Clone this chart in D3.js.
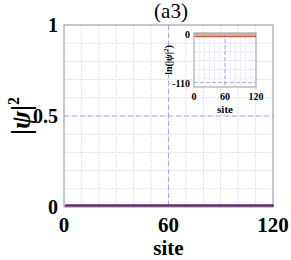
<!DOCTYPE html>
<html>
<head>
<meta charset="utf-8">
<script src="https://cdn.jsdelivr.net/npm/d3@7"></script>
<style>
  body { margin: 0; background: #fff; }
  svg { display: block; }
  text { font-family: "Liberation Serif", "Times New Roman", serif; }
</style>
</head>
<body>
<div id="chart"></div>
<script>
// main panel: |psi|^2 on each site (uniform state, 1/120)
var sites = d3.range(1, 121);
var probRed = sites.map(function (s) { return 0.0083; });
var probBlue = sites.map(function (s) { return 0.0083; });
var xTicks = [0, 60, 120];
var yTicks = [0, 0.5, 1];

// inset: ln(|psi|^2)
var lnValues = sites.map(function (s) { return -4.79; });
var insetXTicks = [0, 60, 120];
var insetYTicks = [-110, 0];

var width = 291, height = 260;
var margin = {top: 25, right: 18, bottom: 53, left: 64};
var w = width - margin.left - margin.right,
    h = height - margin.top - margin.bottom;

var svg = d3.select("#chart").append("svg")
    .attr("width", width)
    .attr("height", height);

var g = svg.append("g")
    .attr("transform", "translate(" + margin.left + "," + margin.top + ")");

var x = d3.scaleLinear().domain([0, 120]).range([0, w]);
var y = d3.scaleLinear().domain([0, 1]).range([h, 0]);

// minor grid
g.selectAll(".gx").data(d3.range(10, 120, 10))
    .enter().append("line")
        .attr("x1", function(d) { return x(d); })
        .attr("x2", function(d) { return x(d); })
        .attr("y1", 0).attr("y2", h)
        .style("stroke", "#dedef6").style("stroke-width", 1)
        .style("stroke-dasharray", "2,1");
g.selectAll(".gy").data(d3.range(0.1, 1, 0.1))
    .enter().append("line")
        .attr("y1", function(d) { return y(d); })
        .attr("y2", function(d) { return y(d); })
        .attr("x1", 0).attr("x2", w)
        .style("stroke", "#dedef6").style("stroke-width", 1)
        .style("stroke-dasharray", "2,1");
// major grid
g.append("line").attr("x1", x(60)).attr("x2", x(60)).attr("y1", 0).attr("y2", h)
    .style("stroke", "#a8a8f0").style("stroke-dasharray", "5,3");
g.append("line").attr("y1", y(0.5)).attr("y2", y(0.5)).attr("x1", 0).attr("x2", w)
    .style("stroke", "#a8a8f0").style("stroke-dasharray", "5,3");

// box
g.append("rect").attr("width", w).attr("height", h)
    .style("fill", "none").style("stroke", "#8a8aa8").style("stroke-width", 1);

// data: red line with blue dots on top gives the zigzag look
var line = d3.line()
    .x(function(d, i) { return x(sites[i]); })
    .y(function(d) { return y(d); });
g.append("path").datum(probRed).attr("d", line)
    .style("fill", "none").style("stroke", "#e8401c").style("stroke-width", 2.6);
g.selectAll(".pb").data(probBlue).enter().append("circle")
    .attr("cx", function(d, i) { return x(sites[i]); })
    .attr("cy", function(d) { return y(d); })
    .attr("r", 1.05)
    .style("fill", "#2333c0");

// tick labels
g.selectAll(".xt").data(xTicks).enter().append("text")
    .attr("x", function(d) { return x(d); })
    .attr("y", h + 25)
    .attr("text-anchor", "middle")
    .style("font-size", "21px").style("font-weight", "bold")
    .text(function(d) { return d; });
g.selectAll(".yt").data(yTicks).enter().append("text")
    .attr("x", -6)
    .attr("y", function(d) { return y(d) + 7; })
    .attr("text-anchor", "end")
    .style("font-size", "20px").style("font-weight", "bold")
    .text(function(d) { return d; });

g.append("text")
    .attr("x", w / 2).attr("y", h + 48)
    .attr("text-anchor", "middle")
    .style("font-size", "21px").style("font-weight", "bold")
    .text("site");

var yl = g.append("text")
    .attr("transform", "translate(" + (-34) + "," + (h / 2) + ") rotate(-90)")
    .attr("text-anchor", "middle")
    .style("font-size", "27px").style("font-weight", "bold");
yl.append("tspan").text("|");
yl.append("tspan").style("font-style", "italic").text("ψ");
yl.append("tspan").text("|");
yl.append("tspan").attr("dy", -11).style("font-size", "16px").text("2");

svg.append("text")
    .attr("x", 171).attr("y", 18)
    .attr("text-anchor", "middle")
    .style("font-size", "21px")
    .text("(a3)");

// ---------- inset ----------
var ig = svg.append("g").attr("transform", "translate(194,33)");
var iw = 62, ih = 54;
var ix = d3.scaleLinear().domain([0, 120]).range([0, iw]);
var iy = d3.scaleLinear().domain([-120, 3]).range([ih, 0]);

ig.append("rect").attr("width", iw).attr("height", ih).style("fill", "#fff");
ig.selectAll(".igx").data(d3.range(10, 120, 10))
    .enter().append("line")
        .attr("x1", function(d) { return ix(d); })
        .attr("x2", function(d) { return ix(d); })
        .attr("y1", 0).attr("y2", ih)
        .style("stroke", "#e2e2f6").style("stroke-dasharray", "2,1");
ig.selectAll(".igy").data([-20, -40, -60, -80, -100])
    .enter().append("line")
        .attr("y1", function(d) { return iy(d); })
        .attr("y2", function(d) { return iy(d); })
        .attr("x1", 0).attr("x2", iw)
        .style("stroke", "#e2e2f6").style("stroke-dasharray", "2,1");
ig.append("line").attr("x1", ix(60)).attr("x2", ix(60)).attr("y1", 0).attr("y2", ih)
    .style("stroke", "#a8a8f0").style("stroke-dasharray", "4,2");
ig.append("line").attr("y1", iy(-110)).attr("y2", iy(-110)).attr("x1", 0).attr("x2", iw)
    .style("stroke", "#a8a8f0").style("stroke-dasharray", "4,2");

// gray band at the top of the inset
ig.append("rect").attr("x", 0).attr("y", 0).attr("width", iw).attr("height", iy(-2))
    .style("fill", "#bcbcbc");
ig.append("rect").attr("width", iw).attr("height", ih)
    .style("fill", "none").style("stroke", "#999").style("stroke-width", 1);

var iline = d3.line()
    .x(function(d, i) { return ix(sites[i]); })
    .y(function(d) { return iy(d); });
ig.append("path").datum(lnValues).attr("d", iline)
    .style("fill", "none").style("stroke", "#e8501c").style("stroke-width", 1.6);

ig.selectAll(".ixt").data(insetXTicks).enter().append("text")
    .attr("x", function(d) { return ix(d); })
    .attr("y", ih + 13)
    .attr("text-anchor", "middle")
    .style("font-size", "10px").style("font-weight", "bold")
    .text(function(d) { return d; });
ig.selectAll(".iyt").data(insetYTicks).enter().append("text")
    .attr("x", -4)
    .attr("y", function(d) { return iy(d) + 4; })
    .attr("text-anchor", "end")
    .style("font-size", "10px").style("font-weight", "bold")
    .text(function(d) { return d; });
ig.append("text")
    .attr("x", iw / 2).attr("y", ih + 26)
    .attr("text-anchor", "middle")
    .style("font-size", "11px").style("font-weight", "bold")
    .text("site");
var iyl = ig.append("text")
    .attr("transform", "translate(-22," + (ih / 2) + ") rotate(-90)")
    .attr("text-anchor", "middle")
    .style("font-size", "10px").style("font-weight", "bold");
iyl.append("tspan").text("ln(|");
iyl.append("tspan").style("font-style", "italic").text("ψ");
iyl.append("tspan").text("|");
iyl.append("tspan").attr("dy", -4).style("font-size", "7px").text("2");
iyl.append("tspan").attr("dy", 4).text(")");
</script>
</body>
</html>
